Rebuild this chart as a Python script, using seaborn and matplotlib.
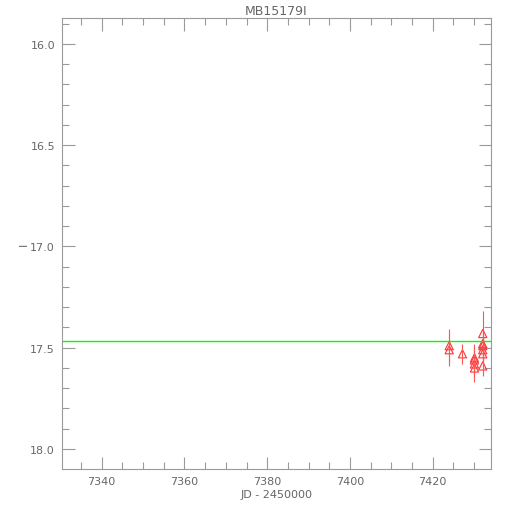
import seaborn as sns
import matplotlib.pyplot as plt
import pandas as pd
from matplotlib.ticker import MultipleLocator

# photometry
jd = [7424.0, 7424.0, 7427.2, 7430.1, 7430.1, 7430.1, 7430.1,
      7432.1, 7432.1, 7432.1, 7432.1, 7432.1, 7432.1]
mag = [17.49, 17.51, 17.53, 17.55, 17.56, 17.58, 17.60,
       17.43, 17.48, 17.49, 17.51, 17.53, 17.59]
err = [0.08, 0.08, 0.05, 0.07, 0.07, 0.07, 0.07,
       0.11, 0.07, 0.07, 0.07, 0.07, 0.05]
baseline = 17.468

title = "MB15179I"
xlabel = "JD - 2450000"
ylabel = "I"

df = pd.DataFrame({"jd": jd, "mag": mag, "err": err})

sns.set_style("white")
plt.rcParams['font.family'] = ['DejaVu Sans']

fig = plt.figure(figsize=(5.1, 5.1), dpi=100)
ax = fig.add_axes([62 / 510, 1 - 470 / 510, (491 - 62) / 510, (470 - 19) / 510])

gray = "#9a9a9a"
txt = "#666666"

ax.axhline(baseline, color="#00ff00", lw=1.0)
ax.errorbar(df["jd"], df["mag"], yerr=df["err"], fmt="none",
            ecolor="#ff5555", elinewidth=0.8, capsize=0)
sns.scatterplot(data=df, x="jd", y="mag", marker="^", s=35,
                facecolors="none", edgecolors="#ff3333", linewidths=0.8,
                ax=ax, legend=False)

ax.set_xlim(7330.4, 7434.1)
ax.set_ylim(18.099, 15.872)
ax.xaxis.set_major_locator(MultipleLocator(20))
ax.xaxis.set_minor_locator(MultipleLocator(5))
ax.yaxis.set_major_locator(MultipleLocator(0.5))
ax.yaxis.set_minor_locator(MultipleLocator(0.1))
ax.yaxis.set_major_formatter(plt.FormatStrFormatter("%.1f"))

ax.tick_params(which="both", direction="in", top=True, right=True,
               bottom=True, left=True,
               color=gray, labelcolor=txt, labelsize=8, width=0.8)
ax.tick_params(which="major", length=9, pad=5)
ax.tick_params(which="minor", length=5)
for s in ax.spines.values():
    s.set_color(gray)
    s.set_linewidth(0.8)

ax.set_title(title, fontsize=9, color=txt, pad=3)
ax.set_xlabel(xlabel, fontsize=8, color=txt, labelpad=2)
ax.set_ylabel(ylabel, fontsize=8, color=txt, rotation=90, labelpad=1)

fig.savefig("out.png", dpi=100)
